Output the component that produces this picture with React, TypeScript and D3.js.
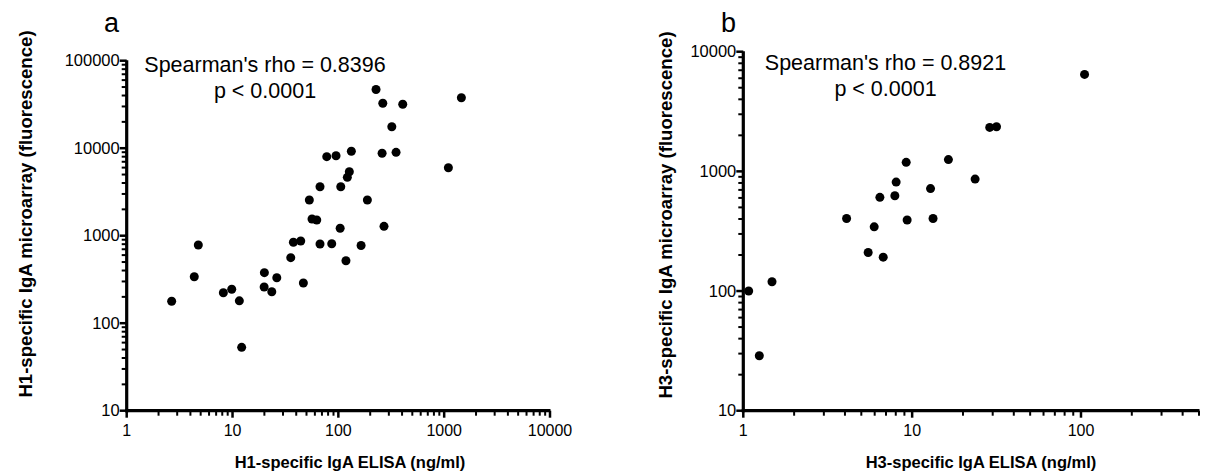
import React from "react";
import * as d3 from "d3";

// Panel a: H1-specific IgA ELISA (ng/ml) vs microarray (fluorescence)
const h1Elisa = [2.66, 4.35, 4.75, 8.19, 9.83, 11.6, 12.2, 20.0, 19.9, 23.5, 26.2, 35.5, 37.6, 44.1, 46.7, 53.2, 56.4, 62.5, 67.1, 67.1, 77.7, 86.6, 95.1, 104, 105.4, 118, 121.6, 127, 132.7, 164, 188, 227, 263, 259, 270, 320, 351, 406, 1096, 1454];
const h1Array = [178, 340, 783, 223, 244, 180, 53, 378, 259, 229, 331, 561, 841, 869, 288, 2557, 1553, 1510, 804, 3631, 8000, 810, 8200, 1215, 3631, 518, 4645, 5385, 9220, 773, 2557, 46900, 32600, 8745, 1280, 17610, 8975, 31760, 5985, 37760];

// Panel b: H3-specific IgA ELISA (ng/ml) vs microarray (fluorescence)
const h3Elisa = [1.076, 1.244, 1.479, 4.09, 5.49, 5.96, 6.44, 6.74, 7.9, 8.04, 9.22, 9.34, 12.85, 13.3, 16.4, 23.6, 28.8, 31.6, 105];
const h3Array = [100, 28.8, 119.6, 404, 210, 344, 607, 192, 625, 814, 1189, 392, 718, 404, 1255, 862, 2331, 2358, 6460];

const panelA = {
  letter: "a",
  xTickLabels: ["1", "10", "100", "1000", "10000"],
  yTickLabels: ["10", "100", "1000", "10000", "100000"],
  xTitle: "H1-specific IgA ELISA (ng/ml)",
  yTitle: "H1-specific IgA microarray (fluorescence)",
  stat1: "Spearman's rho = 0.8396",
  stat2: "p < 0.0001",
};
const panelB = {
  letter: "b",
  xTickLabels: ["1", "10", "100"],
  yTickLabels: ["10", "100", "1000", "10000"],
  xTitle: "H3-specific IgA ELISA (ng/ml)",
  yTitle: "H3-specific IgA microarray (fluorescence)",
  stat1: "Spearman's rho = 0.8921",
  stat2: "p < 0.0001",
};

const FONT = "'Liberation Sans', Arial, Helvetica, sans-serif";

type PanelProps = {
  cfg: typeof panelA;
  xs: number[];
  ys: number[];
  xDomain: [number, number];
  xRange: [number, number];
  yDomain: [number, number];
  yRange: [number, number];
  letterPos: [number, number];
  statCenter: [number, number];
  xTitlePos: [number, number];
  yTitlePos: [number, number];
};

function Panel(p: PanelProps) {
  const x = d3.scaleLog().domain(p.xDomain).range(p.xRange);
  const y = d3.scaleLog().domain(p.yDomain).range(p.yRange);
  const isMajor = (v: number) => Math.abs(Math.log10(v) - Math.round(Math.log10(v))) < 1e-9;
  const xTicks = x.ticks();
  const yTicks = y.ticks();
  const x0 = p.xRange[0];
  const y0 = p.yRange[0];
  const majorX = xTicks.filter(isMajor);
  const majorY = yTicks.filter(isMajor);
  return (
    <g>
      <text x={p.letterPos[0]} y={p.letterPos[1]} fontSize={27} fontFamily={FONT}>{p.cfg.letter}</text>
      {/* axes lines */}
      <line x1={x0} x2={x0} y1={y0 + 1.5} y2={p.yRange[1] - 0.5} stroke="#000" strokeWidth={3.2} />
      <line x1={x0 - 1.6} x2={p.xRange[1] + 0.5} y1={y0} y2={y0} stroke="#000" strokeWidth={3.2} />
      {yTicks.map((t, i) => (
        <line key={"yt" + i} x1={x0} x2={x0 - (isMajor(t) ? 7 : 5)} y1={y(t)} y2={y(t)} stroke="#000" strokeWidth={isMajor(t) ? 2.5 : 2} />
      ))}
      {xTicks.map((t, i) => (
        <line key={"xt" + i} x1={x(t)} x2={x(t)} y1={y0} y2={y0 + (isMajor(t) ? 7 : 5)} stroke="#000" strokeWidth={isMajor(t) ? 2.5 : 2} />
      ))}
      {majorY.map((t, i) => (
        <text key={"yl" + i} x={x0 - 7} y={y(t)} dy="0.35em" textAnchor="end" fontSize={16.5} fontFamily={FONT}>{p.cfg.yTickLabels[i]}</text>
      ))}
      {majorX.map((t, i) => (
        <text key={"xl" + i} x={x(t)} y={y0 + 25} textAnchor="middle" fontSize={16} fontFamily={FONT}>{p.cfg.xTickLabels[i]}</text>
      ))}
      <text x={p.xTitlePos[0]} y={p.xTitlePos[1]} textAnchor="middle" fontSize={16.5} fontWeight="bold" fontFamily={FONT}>{p.cfg.xTitle}</text>
      <text transform={`translate(${p.yTitlePos[0]},${p.yTitlePos[1]}) rotate(-90)`} textAnchor="middle" fontSize={18.6} fontWeight="bold" fontFamily={FONT}>{p.cfg.yTitle}</text>
      <text x={p.statCenter[0]} y={p.statCenter[1]} textAnchor="middle" fontSize={21.5} fontFamily={FONT}>{p.cfg.stat1}</text>
      <text x={p.statCenter[0]} y={p.statCenter[1] + 26} textAnchor="middle" fontSize={21.5} fontFamily={FONT}>{p.cfg.stat2}</text>
      {p.xs.map((v, i) => (
        <circle key={"pt" + i} cx={x(v)} cy={y(p.ys[i])} r={4.5} fill="#000" />
      ))}
    </g>
  );
}

export default function App() {
  return (
    <svg width={1206} height={475} style={{ position: "absolute", left: 0, top: 0, background: "#fff" }}>
      <rect width={1206} height={475} fill="#fff" />
      <Panel
        cfg={panelA}
        xs={h1Elisa}
        ys={h1Array}
        xDomain={[1, 10000]}
        xRange={[126.7, 550]}
        yDomain={[10, 100000]}
        yRange={[410.7, 60.7]}
        letterPos={[104, 32]}
        statCenter={[265, 72]}
        xTitlePos={[350, 468]}
        yTitlePos={[32, 214]}
      />
      <Panel
        cfg={panelB}
        xs={h3Elisa}
        ys={h3Array}
        xDomain={[1, 500]}
        xRange={[743.3, 1199]}
        yDomain={[10, 10000]}
        yRange={[410.7, 51.7]}
        letterPos={[721, 32]}
        statCenter={[885.5, 70]}
        xTitlePos={[981, 468]}
        yTitlePos={[672, 215]}
      />
    </svg>
  );
}
